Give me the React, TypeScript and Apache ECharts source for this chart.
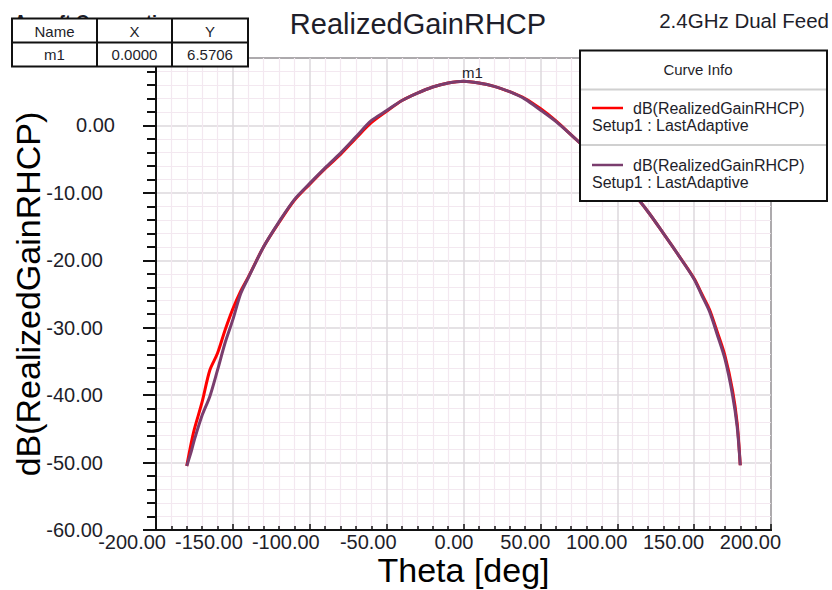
import React, { useEffect, useRef } from "react";
import * as echarts from "echarts";

const FONT = '"Liberation Sans", Arial, sans-serif';

const titleText = "RealizedGainRHCP";
const subTitleText = "2.4GHz Dual Feed";
const xAxisName = "Theta [deg]";
const yAxisName = "dB(RealizedGainRHCP)";
const seriesNames = ["dB(RealizedGainRHCP) Setup1 : LastAdaptive (1)", "dB(RealizedGainRHCP) Setup1 : LastAdaptive (2)"];
const legendLine1 = "dB(RealizedGainRHCP)";
const legendLine2 = "Setup1 : LastAdaptive";
const markerName = "m1";
const markerX = 0.0;
const markerY = 6.5706;
const tableHeader = ["Name", "X", "Y"];
const tableRow = ["m1", "0.0000", "6.5706"];

const theta = [-180, -177, -175, -170, -165, -160, -155, -150, -145, -140, -130, -120, -110, -100, -90, -80, -70, -60, -50, -40, -30, -20, -10, 0, 10, 20, 30, 40, 50, 60, 70, 80, 90, 100, 110, 120, 130, 140, 150, 155, 160, 165, 170, 175, 178, 180];

const gainRed = [-50.5, -47.0, -45.0, -41.0, -36.3, -33.8, -30.3, -27.2, -24.6, -22.5, -18.0, -14.4, -11.1, -8.7, -6.4, -4.3, -1.9, 0.4, 2.1, 3.7, 4.8, 5.7, 6.3, 6.57, 6.3, 5.8, 5.0, 4.0, 2.5, 0.7, -1.4, -3.5, -5.6, -7.7, -10.0, -12.8, -16.0, -19.3, -22.7, -25.0, -27.3, -30.6, -34.1, -39.3, -44.2, -50.4];

const gainPurple = [-50.5, -48.3, -46.6, -43.0, -40.2, -36.3, -32.2, -28.8, -25.0, -22.6, -18.0, -14.3, -11.0, -8.6, -6.3, -4.1, -1.7, 0.7, 2.2, 3.7, 4.8, 5.7, 6.3, 6.57, 6.3, 5.8, 5.0, 3.9, 2.3, 0.6, -1.4, -3.5, -5.6, -7.7, -10.0, -12.8, -16.0, -19.3, -22.8, -25.2, -27.6, -31.0, -34.6, -40.0, -44.7, -50.4];

const RED = "#ff0000";
const PURPLE = "#7a3d6e";
const TXT = "#1e1e2a";

function txt(text: string, x: number, y: number, size: number, align = "left", z = 101, extra: any = {}) {
  return {
    type: "text",
    x,
    y,
    z,
    style: {
      text,
      fill: TXT,
      fontSize: size,
      fontFamily: FONT,
      align,
      verticalAlign: "middle",
      textAlign: align,
      textVerticalAlign: "middle",
      ...extra,
    },
  };
}

function ln(x1: number, y1: number, x2: number, y2: number, stroke: string, w: number, z = 101) {
  return { type: "line", z, shape: { x1, y1, x2, y2 }, style: { stroke, lineWidth: w } };
}

export default function App() {
  const ref = useRef<HTMLDivElement>(null);
  useEffect(() => {
    if (!ref.current) return;
    const chart = echarts.init(ref.current, undefined, { renderer: "svg" });
    const redData = theta.map((t, i) => [t, gainRed[i]]);
    const purpleData = theta.map((t, i) => [t, gainPurple[i]]);

    const graphic: any[] = [
      // "Ansoft Corporation" partially hidden behind marker table
      txt("Ansoft Corporation", 14, 22, 18, "left", 99, { fontWeight: "bold" }),
      // marker table
      { type: "rect", z: 100, shape: { x: 12, y: 18.5, width: 236, height: 48 }, style: { fill: "#fff", stroke: "#111", lineWidth: 2 } },
      ln(12, 42.5, 248, 42.5, "#111", 2),
      ln(97, 18.5, 97, 66.5, "#111", 2),
      ln(172, 18.5, 172, 66.5, "#111", 2),
      txt(tableHeader[0], 54.5, 31, 15, "center"),
      txt(tableHeader[1], 134.5, 31, 15, "center"),
      txt(tableHeader[2], 210, 31, 15, "center"),
      txt(tableRow[0], 54.5, 54.5, 15, "center"),
      txt(tableRow[1], 134.5, 54.5, 15, "center"),
      txt(tableRow[2], 210, 54.5, 15, "center"),
      // sub title
      txt(subTitleText, 829, 20, 20.5, "right"),
      // legend box
      { type: "rect", z: 100, shape: { x: 580, y: 50.5, width: 247, height: 150.5 }, style: { fill: "#fff", stroke: "#111", lineWidth: 2 } },
      ln(581, 89.5, 826, 89.5, "#d0d0d0", 2),
      ln(581, 145, 826, 145, "#d0d0d0", 2),
      txt("Curve Info", 698, 69, 15, "center"),
      ln(592, 108, 623, 108, RED, 2.5),
      txt(legendLine1, 633, 108, 16, "left"),
      txt(legendLine2, 592, 125, 16, "left"),
      ln(592, 165, 623, 165, PURPLE, 2.5),
      txt(legendLine1, 633, 165, 16, "left"),
      txt(legendLine2, 592, 182, 16, "left"),
    ];

    chart.setOption({
      animation: false,
      backgroundColor: "#fff",
      title: {
        text: titleText,
        left: 418,
        top: 9,
        padding: 0,
        textAlign: "center",
        textStyle: { fontFamily: FONT, fontSize: 29, fontWeight: "normal", color: TXT },
      },
      grid: {
        left: 156,
        right: 61,
        top: 58,
        bottom: 60,
        containLabel: false,
        outerBoundsMode: "none",
        show: true,
        borderColor: "#222",
        borderWidth: 2,
        backgroundColor: "#fff",
      },
      xAxis: {
        type: "value",
        min: -200,
        max: 200,
        interval: 50,
        name: xAxisName,
        nameLocation: "middle",
        nameGap: 40,
        nameMoveOverlap: false,
        nameTextStyle: { fontFamily: FONT, fontSize: 34, color: "#000", verticalAlign: "middle", lineHeight: 30 },
        axisLine: { show: true, onZero: false, lineStyle: { color: "#111", width: 2 } },
        axisTick: { show: true, inside: true, length: 6, lineStyle: { color: "#111", width: 1.5 } },
        minorTick: { show: true, splitNumber: 5, length: 4, lineStyle: { color: "#111", width: 1.5 } },
        splitLine: { show: true, lineStyle: { color: "#dcd8dc", width: 1.5 } },
        minorSplitLine: { show: true, lineStyle: { color: "#f3e8f0", width: 1.2 } },
        axisLabel: {
          margin: 3,
          align: "center",
          formatter: (v: number) => `{a|${v.toFixed(2)}}`,
          rich: {
            a: { width: 20, align: "right", fontFamily: FONT, fontSize: 20, lineHeight: 18, color: TXT },
          },
        },
      },
      yAxis: {
        type: "value",
        min: -60,
        max: 10,
        interval: 10,
        name: yAxisName,
        nameLocation: "middle",
        nameGap: 128,
        nameRotate: 90,
        nameMoveOverlap: false,
        nameTextStyle: { fontFamily: FONT, fontSize: 34, color: "#000", verticalAlign: "middle", align: "center" },
        axisLine: { show: true, onZero: false, lineStyle: { color: "#111", width: 2 } },
        axisTick: { show: true, inside: false, length: 13, lineStyle: { color: "#111", width: 2 } },
        minorTick: { show: true, splitNumber: 5, length: 9, lineStyle: { color: "#111", width: 2 } },
        splitLine: { show: true, lineStyle: { color: "#dcd8dc", width: 1.5 } },
        minorSplitLine: { show: true, lineStyle: { color: "#f3e8f0", width: 1.2 } },
        axisLabel: {
          margin: 41,
          showMaxLabel: false,
          formatter: (v: number) => (v < 0 ? `{n|${v.toFixed(2)}}` : `{z|${v.toFixed(2)}}`),
          rich: {
            n: { padding: [0, 12, 0, 0], fontFamily: FONT, fontSize: 20, color: TXT },
            z: { fontFamily: FONT, fontSize: 20, color: TXT },
          },
        },
      },
      series: [
        {
          name: seriesNames[0],
          type: "line",
          data: redData,
          showSymbol: false,
          smooth: 0.3,
          z: 2,
          lineStyle: { color: RED, width: 3 },
          itemStyle: { color: RED },
        },
        {
          name: seriesNames[1],
          type: "line",
          data: purpleData,
          showSymbol: false,
          smooth: 0.3,
          z: 3,
          lineStyle: { color: PURPLE, width: 3 },
          itemStyle: { color: PURPLE },
          markPoint: {
            symbol: "circle",
            symbolSize: 0,
            data: [{ name: markerName, coord: [markerX, markerY] }],
            label: {
              show: true,
              formatter: markerName,
              position: "top",
              distance: 1,
              offset: [9, 0],
              fontFamily: FONT,
              fontSize: 15,
              color: TXT,
            },
          },
        },
      ],
      graphic,
    });
    return () => chart.dispose();
  }, []);
  return (
    <div
      ref={ref}
      style={{ position: "fixed", left: 0, top: 0, width: 832, height: 590, background: "#fff" }}
    />
  );
}
